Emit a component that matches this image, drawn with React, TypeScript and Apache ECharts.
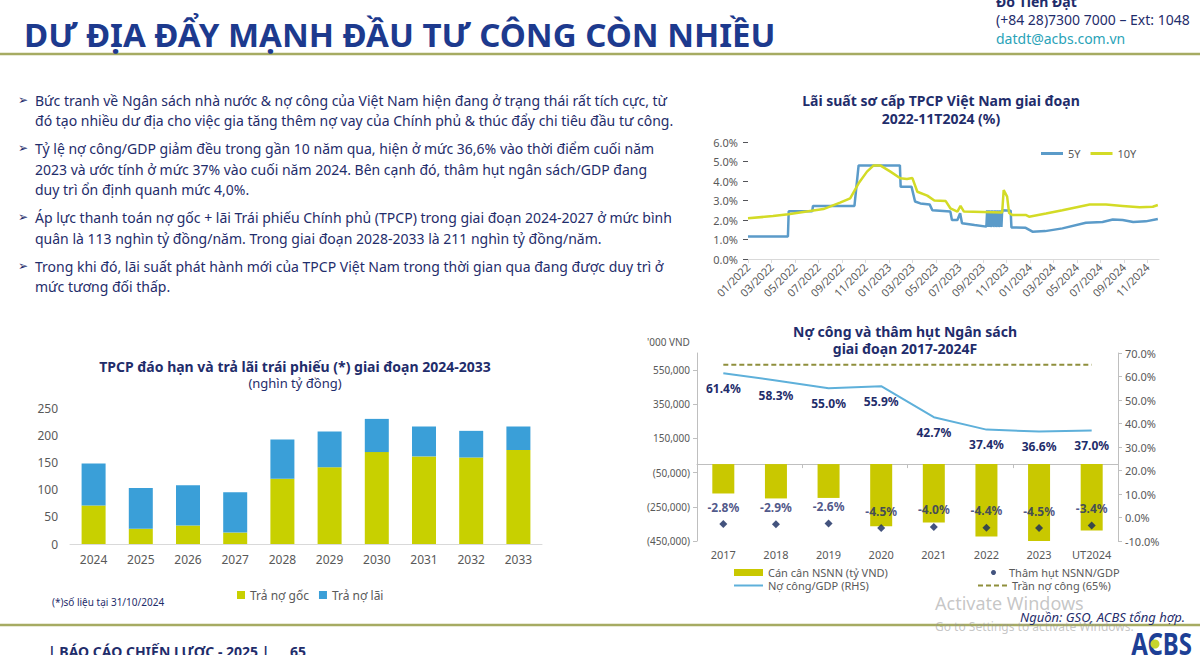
import React, { useEffect, useRef } from "react";
import * as echarts from "echarts";

const NAVY = "#1f2d6b";
const TITLE_BLUE = "#1d3a8e";
const AXIS_GRAY = "#595959";
const LIME = "#c8d000";
const SKY = "#3a9fd8";
const FONT = "'Noto Sans', 'DejaVu Sans', sans-serif";

// ---- Primary auction yields of government bonds (%) ----
const yield5YDates = [
  "2022-01-01", "2022-04-13", "2022-04-15", "2022-06-15", "2022-06-17", "2022-10-03",
  "2022-10-14", "2023-01-30", "2023-02-01", "2023-02-27", "2023-03-08", "2023-03-22",
  "2023-04-15", "2023-04-22", "2023-06-08", "2023-06-12", "2023-06-26", "2023-07-03",
  "2023-07-08", "2023-08-10", "2023-09-10", "2023-09-12", "2023-09-15", "2023-09-18",
  "2023-09-21", "2023-09-25", "2023-09-28", "2023-10-02", "2023-10-05", "2023-10-09",
  "2023-10-12", "2023-10-16", "2023-10-19", "2023-10-21", "2023-11-12", "2023-11-14",
  "2023-12-21", "2024-01-08", "2024-02-10", "2024-03-25", "2024-05-25", "2024-07-07",
  "2024-08-03", "2024-08-29", "2024-09-25", "2024-10-28", "2024-11-28",
];
const yield5YValues = [
  1.15, 1.15, 2.45, 2.45, 2.72, 2.72,
  4.8, 4.8, 3.7, 3.7, 2.95, 2.85,
  2.8, 2.5, 2.43, 2.0, 2.0, 2.35,
  1.83, 1.74, 1.66, 2.5, 1.64, 2.5,
  1.64, 2.5, 1.64, 2.5, 1.64, 2.5,
  1.64, 2.5, 1.64, 2.5, 2.48, 1.62,
  1.6, 1.4, 1.43, 1.57, 1.86, 1.9,
  2.03, 2.0, 1.9, 1.93, 2.05,
];
const yield10YDates = [
  "2022-01-01", "2022-03-05", "2022-04-14", "2022-06-01", "2022-07-14", "2022-08-27",
  "2022-09-22", "2022-10-14", "2022-11-05", "2022-11-22", "2022-12-09", "2023-01-05",
  "2023-01-31", "2023-02-16", "2023-03-01", "2023-03-14", "2023-04-09", "2023-04-27",
  "2023-05-27", "2023-06-08", "2023-06-26", "2023-07-04", "2023-07-13", "2023-10-21",
  "2023-10-25", "2023-11-03", "2023-11-08", "2023-11-16", "2023-12-21", "2023-12-30",
  "2024-02-12", "2024-03-25", "2024-05-07", "2024-06-04", "2024-07-16", "2024-08-29",
  "2024-10-12", "2024-11-15", "2024-11-28",
];
const yield10YValues = [
  2.09, 2.2, 2.3, 2.44, 2.56, 2.89,
  3.11, 3.88, 4.48, 4.8, 4.8, 4.48,
  4.14, 4.1, 4.15, 3.45, 3.25, 3.0,
  2.97, 2.6, 2.43, 2.72, 2.43, 2.39,
  3.54, 3.2, 2.36, 2.26, 2.26, 2.17,
  2.33, 2.5, 2.68, 2.79, 2.79, 2.72,
  2.65, 2.68, 2.77,
];
const yieldTickLabels = [
  "01/2022", "03/2022", "05/2022", "07/2022", "09/2022", "11/2022",
  "01/2023", "03/2023", "05/2023", "07/2023", "09/2023", "11/2023",
  "01/2024", "03/2024", "05/2024", "07/2024", "09/2024", "11/2024",
];

// ---- Government bond redemptions and coupon payments (thousand bn VND) ----
const maturityYears = ["2024", "2025", "2026", "2027", "2028", "2029", "2030", "2031", "2032", "2033"];
const principalPayments = [71, 28, 34, 21, 120, 141, 169, 161, 159, 173];
const interestPayments = [77, 75, 74, 74, 72, 66, 61, 55, 49, 43];

// ---- Public debt and budget balance ----
const fiscalYears = ["2017", "2018", "2019", "2020", "2021", "2022", "2023", "UT2024"];
const budgetBalance = [-172000, -201000, -198000, -364000, -342000, -423000, -452000, -389000];
const deficitToGdp = [-2.8, -2.9, -2.6, -4.5, -4.0, -4.4, -4.5, -3.4];
const publicDebtToGdp = [61.4, 58.3, 55.0, 55.9, 42.7, 37.4, 36.6, 37.0];
const debtCeiling = 65;
const balanceTicks = [-450000, -250000, -50000, 150000, 350000, 550000];

const bulletLines: { text: string; bullet: boolean }[] = [
  { text: "Bức tranh về Ngân sách nhà nước & nợ công của Việt Nam hiện đang ở trạng thái rất tích cực, từ", bullet: true },
  { text: "đó tạo nhiều dư địa cho việc gia tăng thêm nợ vay của Chính phủ & thúc đẩy chi tiêu đầu tư công.", bullet: false },
  { text: "Tỷ lệ nợ công/GDP giảm đều trong gần 10 năm qua, hiện ở mức 36,6% vào thời điểm cuối năm", bullet: true },
  { text: "2023 và ước tính ở mức 37% vào cuối năm 2024. Bên cạnh đó, thâm hụt ngân sách/GDP đang", bullet: false },
  { text: "duy trì ổn định quanh mức 4,0%.", bullet: false },
  { text: "Áp lực thanh toán nợ gốc + lãi Trái phiếu Chính phủ (TPCP) trong giai đoạn 2024-2027 ở mức bình", bullet: true },
  { text: "quân là 113 nghìn tỷ đồng/năm. Trong giai đoạn 2028-2033 là 211 nghìn tỷ đồng/năm.", bullet: false },
  { text: "Trong khi đó, lãi suất phát hành mới của TPCP Việt Nam trong thời gian qua đang được duy trì ở", bullet: true },
  { text: "mức tương đối thấp.", bullet: false },
];
const bulletY = [100, 120, 148, 169, 189, 217, 238, 266, 286];

// legend glyphs: plain strokes instead of the default line-with-marker
const SOLID_22 = "path://M0,0H22V3H0Z";
const SOLID_29 = "path://M0,0H29V2H0Z";
const DASHED_30 = "path://M0,0H5V2H0Z M8,0H13V2H8Z M16,0H21V2H16Z M24,0H29V2H24Z";

// months elapsed since 01/2022, fractional within the month
const monthIndex = (s: string) => {
  const [y, m, d] = s.split("-").map(Number);
  const dim = new Date(y, m, 0).getDate();
  return (y - 2022) * 12 + (m - 1) + (d - 1) / dim;
};
const tickMonth = (label: string) => {
  const [mm, yyyy] = label.split("/").map(Number);
  return (yyyy - 2022) * 12 + (mm - 1);
};
const yieldTickValues = yieldTickLabels.map(tickMonth);
const toPairs = (dates: string[], values: number[]) => dates.map((d, i) => [monthIndex(d), values[i]]);

const fmtThousands = (v: number) => {
  const s = Math.abs(v).toLocaleString("en-US");
  return v < 0 ? `(${s})` : s;
};

const txt = (x: number, y: number, text: string, font: string, fill: string, align = "left", extra: any = {}) => ({
  type: "text",
  x,
  y,
  silent: true,
  z: 10,
  ...extra,
  style: { text, font, fill, textAlign: align, textVerticalAlign: "middle" },
});

export default function App() {
  const ref = useRef<HTMLDivElement>(null);

  useEffect(() => {
    if (!ref.current) return;
    const chart = echarts.init(ref.current, undefined, { renderer: "svg" });

    const graphics: any[] = [
      // header
      txt(24, 34, "DƯ ĐỊA ĐẨY MẠNH ĐẦU TƯ CÔNG CÒN NHIỀU", `bold 33px ${FONT}`, TITLE_BLUE),
      txt(996, 1, "Đỗ Tiến Đạt", `bold 14px ${FONT}`, NAVY),
      txt(996, 19, "(+84 28)7300 7000 – Ext: 1048", `14px ${FONT}`, NAVY),
      txt(996, 38, "datdt@acbs.com.vn", `14px ${FONT}`, "#2aa3b8"),
      { type: "line", silent: true, shape: { x1: 0, y1: 54, x2: 1200, y2: 54 }, style: { stroke: "#a6ab62", lineWidth: 2.5 } },
      // footer
      { type: "line", silent: true, shape: { x1: 0, y1: 625, x2: 1200, y2: 625 }, style: { stroke: "#a6ab62", lineWidth: 2.5 } },
      txt(48, 651, "| BÁO CÁO CHIẾN LƯỢC - 2025 |", `bold 14px ${FONT}`, NAVY),
      txt(290, 651, "65", `bold 14px ${FONT}`, NAVY),
      txt(1192, 643, "ACBS", `bold 30px ${FONT}`, "#1d3f95", "right", { scaleX: 0.8 }),
      { type: "circle", silent: true, z: 11, shape: { cx: 1155, cy: 644, r: 4.5 }, style: { fill: "#c6d52c" } },
      txt(1185, 617, "Nguồn: GSO, ACBS tổng hợp.", `italic 13px ${FONT}`, NAVY, "right"),
      // chart titles
      txt(941, 100, "Lãi suất sơ cấp TPCP Việt Nam giai đoạn", `bold 14px ${FONT}`, NAVY, "center"),
      txt(941, 118, "2022-11T2024 (%)", `bold 14px ${FONT}`, NAVY, "center"),
      txt(295, 366, "TPCP đáo hạn và trả lãi trái phiếu (*) giai đoạn 2024-2033", `bold 14px ${FONT}`, NAVY, "center"),
      txt(295, 383, "(nghìn tỷ đồng)", `13px ${FONT}`, NAVY, "center"),
      txt(905, 331, "Nợ công và thâm hụt Ngân sách", `bold 14px ${FONT}`, NAVY, "center"),
      txt(905, 348, "giai đoạn 2017-2024F", `bold 14px ${FONT}`, NAVY, "center"),
      txt(647, 342, "'000 VND", `10px ${FONT}`, AXIS_GRAY),
      txt(52, 602, "(*)số liệu tại 31/10/2024", `10px ${FONT}`, NAVY),
      // system watermark
      txt(935, 603, "Activate Windows", `18px ${FONT}`, "rgba(150,150,150,0.55)"),
      txt(935, 626, "Go to Settings to activate Windows.", `12px ${FONT}`, "rgba(150,150,150,0.55)"),
    ];
    bulletLines.forEach((l, i) => {
      if (l.bullet) graphics.push(txt(18, bulletY[i], "➢", `12px 'DejaVu Sans'`, NAVY));
      graphics.push(txt(35, bulletY[i], l.text, `14px ${FONT}`, NAVY));
    });

    const axisText = { color: AXIS_GRAY, fontSize: 11, fontFamily: FONT };
    const legendText = { color: AXIS_GRAY, fontSize: 11, fontFamily: FONT };
    const pct1 = (v: number) => `${v.toFixed(1)}%`;

    chart.setOption({
      animation: false,
      backgroundColor: "#ffffff",
      textStyle: { fontFamily: FONT },
      grid: [
        { left: 748, right: 41, top: 142, bottom: 396 },
        { left: 70, right: 658, top: 408, bottom: 111 },
        { left: 697, right: 82, top: 353, bottom: 114 },
      ],
      xAxis: [
        {
          gridIndex: 0,
          type: "value",
          min: 0,
          max: 35,
          splitLine: { show: false },
          axisLine: { show: true, lineStyle: { color: "#d9d9d9" } },
          axisTick: { show: true, customValues: yieldTickValues, length: 4, lineStyle: { color: "#d9d9d9" } },
          axisLabel: {
            ...axisText,
            customValues: yieldTickValues,
            rotate: 45,
            margin: 6,
            formatter: (v: number) => yieldTickLabels[yieldTickValues.indexOf(Math.round(v))] ?? "",
          },
        },
        {
          gridIndex: 1,
          type: "category",
          data: maturityYears,
          axisLine: { lineStyle: { color: "#d9d9d9" } },
          axisTick: { show: false },
          axisLabel: { ...axisText, fontSize: 12, margin: 9 },
        },
        {
          gridIndex: 2,
          type: "category",
          data: fiscalYears,
          axisLine: { onZero: true, onZeroAxisIndex: 2, lineStyle: { color: "#bfbfbf" } },
          axisTick: { show: true, length: 4, lineStyle: { color: "#bfbfbf" } },
          axisLabel: { show: false },
        },
        {
          gridIndex: 2,
          type: "category",
          data: fiscalYears,
          position: "bottom",
          axisLine: { show: false, onZero: false },
          axisTick: { show: false },
          axisLabel: { ...axisText, margin: 8 },
        },
      ],
      yAxis: [
        {
          gridIndex: 0,
          type: "value",
          min: 0,
          max: 6,
          interval: 1,
          splitLine: { show: false },
          axisLine: { show: false },
          axisLabel: { ...axisText, margin: 10, formatter: pct1 },
        },
        {
          gridIndex: 1,
          type: "value",
          min: 0,
          max: 250,
          interval: 50,
          splitLine: { show: false },
          axisLine: { show: false },
          axisLabel: { ...axisText, fontSize: 12, margin: 12 },
        },
        {
          gridIndex: 2,
          type: "value",
          min: -450000,
          max: 650000,
          splitLine: { show: false },
          axisLine: { show: true, lineStyle: { color: "#bfbfbf" } },
          axisTick: { show: true, length: 4, customValues: balanceTicks, lineStyle: { color: "#bfbfbf" } },
          axisLabel: { ...axisText, fontSize: 10, margin: 7, customValues: balanceTicks, formatter: fmtThousands },
        },
        {
          gridIndex: 2,
          type: "value",
          position: "right",
          min: -10,
          max: 70,
          interval: 10,
          splitLine: { show: false },
          axisLine: { show: true, lineStyle: { color: "#bfbfbf" } },
          axisTick: { show: true, length: 4, lineStyle: { color: "#bfbfbf" } },
          axisLabel: { ...axisText, fontSize: 11, margin: 7, formatter: pct1 },
        },
      ],
      legend: [
        {
          data: [
            { name: "5Y", icon: SOLID_22 },
            { name: "10Y", icon: SOLID_22 },
          ],
          left: 1036,
          top: 143,
          itemWidth: 22,
          itemHeight: 4,
          itemGap: 10,
          textStyle: legendText,
        },
        {
          data: ["Trả nợ gốc", "Trả nợ lãi"],
          left: 232,
          top: 584,
          icon: "rect",
          itemWidth: 8,
          itemHeight: 8,
          itemGap: 10,
          textStyle: { ...legendText, fontSize: 12 },
        },
        {
          data: ["Cán cân NSNN (tỷ VND)"],
          left: 729,
          top: 562,
          icon: "rect",
          itemWidth: 29,
          itemHeight: 7,
          textStyle: legendText,
        },
        {
          data: [{ name: "Nợ công/GDP (RHS)", icon: SOLID_29 }],
          left: 729,
          top: 575,
          itemWidth: 29,
          itemHeight: 4,
          textStyle: legendText,
        },
        {
          data: ["Thâm hụt NSNN/GDP"],
          left: 986,
          top: 562,
          icon: "circle",
          itemWidth: 5,
          itemHeight: 5,
          textStyle: { ...legendText, padding: [0, 0, 0, 8] },
        },
        {
          data: [{ name: "Trần nợ công (65%)", icon: DASHED_30 }],
          left: 973,
          top: 575,
          itemWidth: 29,
          itemHeight: 4,
          textStyle: legendText,
        },
      ],
      series: [
        {
          name: "5Y",
          type: "line",
          xAxisIndex: 0,
          yAxisIndex: 0,
          data: toPairs(yield5YDates, yield5YValues),
          symbol: "none",
          lineStyle: { width: 2.5, color: "#5b9bc9" },
          itemStyle: { color: "#5b9bc9" },
          z: 2,
        },
        {
          name: "10Y",
          type: "line",
          xAxisIndex: 0,
          yAxisIndex: 0,
          data: toPairs(yield10YDates, yield10YValues),
          symbol: "none",
          lineStyle: { width: 2.5, color: "#d3db26" },
          itemStyle: { color: "#d3db26" },
          z: 3,
        },
        {
          name: "Trả nợ gốc",
          type: "bar",
          stack: "maturity",
          xAxisIndex: 1,
          yAxisIndex: 1,
          data: principalPayments,
          barWidth: 24,
          itemStyle: { color: LIME },
        },
        {
          name: "Trả nợ lãi",
          type: "bar",
          stack: "maturity",
          xAxisIndex: 1,
          yAxisIndex: 1,
          data: interestPayments,
          barWidth: 24,
          itemStyle: { color: SKY },
        },
        {
          name: "Cán cân NSNN (tỷ VND)",
          type: "bar",
          xAxisIndex: 2,
          yAxisIndex: 2,
          data: budgetBalance,
          barWidth: 22,
          itemStyle: { color: "#c9c800" },
          z: 2,
        },
        {
          name: "Nợ công/GDP (RHS)",
          type: "line",
          xAxisIndex: 2,
          yAxisIndex: 3,
          data: publicDebtToGdp,
          symbol: "circle",
          symbolSize: 0,
          lineStyle: { width: 2, color: "#5eb0da" },
          itemStyle: { color: "#5eb0da" },
          label: {
            show: true,
            position: "bottom",
            distance: 9,
            formatter: (p: any) => pct1(p.value),
            color: NAVY,
            fontWeight: "bold",
            fontSize: 12,
          },
          z: 4,
        },
        {
          name: "Trần nợ công (65%)",
          type: "line",
          xAxisIndex: 2,
          yAxisIndex: 3,
          data: fiscalYears.map(() => debtCeiling),
          symbol: "none",
          lineStyle: { width: 2, color: "#8f8f3c", type: [5, 3] },
          itemStyle: { color: "#8f8f3c" },
          z: 3,
        },
        {
          name: "Thâm hụt NSNN/GDP",
          type: "scatter",
          xAxisIndex: 2,
          yAxisIndex: 3,
          data: deficitToGdp,
          symbol: "diamond",
          symbolSize: 8,
          itemStyle: { color: "#14285e" },
          label: {
            show: true,
            position: "top",
            distance: 7,
            formatter: (p: any) => pct1(p.value),
            color: NAVY,
            fontWeight: "bold",
            fontSize: 12,
          },
          z: 5,
        },
      ],
      graphic: { elements: graphics },
    });

    return () => chart.dispose();
  }, []);

  return (
    <div
      ref={ref}
      style={{ position: "absolute", left: 0, top: 0, width: 1200, height: 655, background: "#fff" }}
    />
  );
}
